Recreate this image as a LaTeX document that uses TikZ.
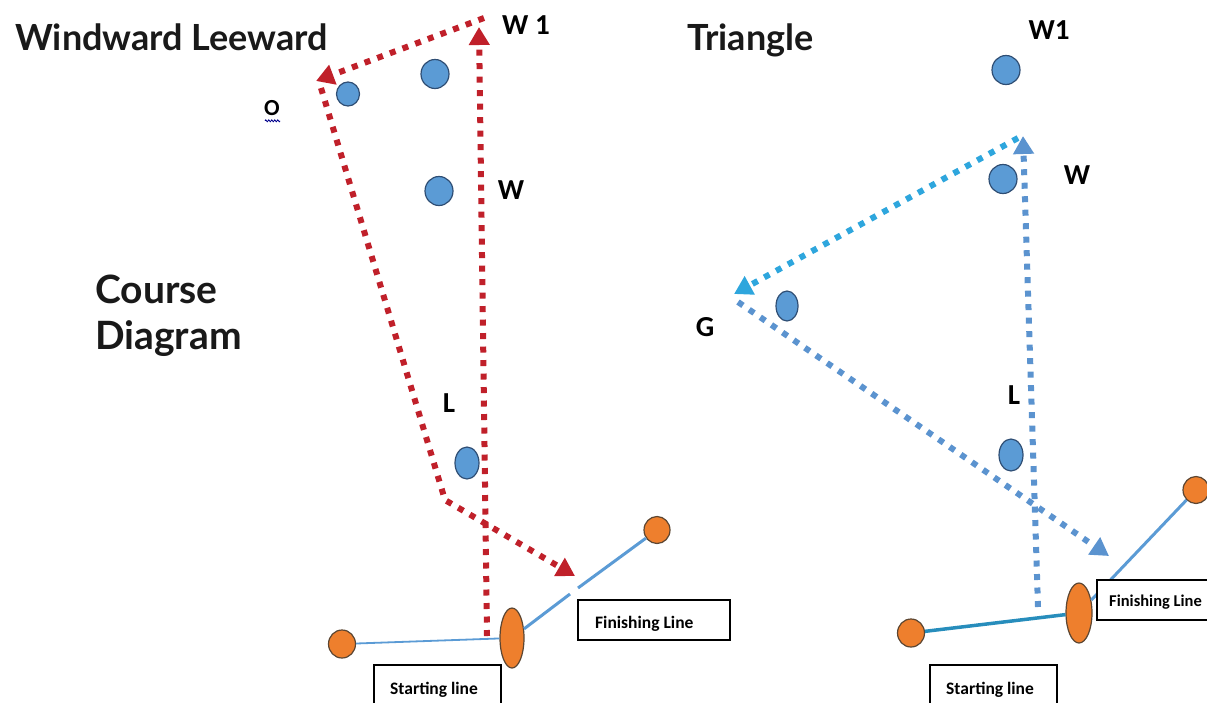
\documentclass[tikz,border=0pt]{standalone}
\usepackage{fontspec}
\setmainfont{Carlito}
\newfontfamily\titlefont{Lato}
\usetikzlibrary{arrows.meta,shapes.geometric,decorations.pathmorphing}
\definecolor{rdot}{HTML}{C0202A}
\definecolor{bdot}{HTML}{5B93CF}
\definecolor{cdot}{HTML}{2EA6DD}
\definecolor{bfill}{HTML}{5B9BD5}
\definecolor{bline}{HTML}{2F4E74}
\definecolor{ofill}{HTML}{EE7F2D}
\definecolor{oline}{HTML}{5C4632}
\definecolor{sline}{HTML}{5B9BD5}
\tikzset{
  bmark/.style={ellipse,draw=bline,line width=1.2pt,fill=bfill,inner sep=0pt},
  omark/.style={ellipse,draw=oline,line width=1.2pt,fill=ofill,inner sep=0pt},
  reddots/.style={draw=rdot,line width=6pt,dash pattern=on 6pt off 7.5pt},
  bluedots/.style={draw=bdot,line width=6pt,dash pattern=on 6pt off 7.5pt},
  cyandots/.style={draw=cdot,line width=6pt,dash pattern=on 6pt off 7.5pt},
  rtip/.style={-{Triangle[length=18pt,width=20pt]}},
  title/.style={font=\titlefont\bfseries\fontsize{36}{40}\selectfont,text=black!90,inner sep=0pt},
  lbl/.style={font=\bfseries\fontsize{29}{32}\selectfont,inner sep=0pt},
  boxlbl/.style={draw=black,line width=1.3pt,fill=white,inner sep=0pt},
  boxtxt/.style={font=\bfseries\fontsize{17.5}{19}\selectfont,inner sep=0pt,anchor=base west},
  sline/.style={draw=sline,line width=2.2pt},
  tline/.style={draw=sline,line width=3.5pt}
}
\begin{document}
\begin{tikzpicture}[x=1pt,y=-1pt]
\useasboundingbox (0,0) rectangle (1207,702);
% ===== titles =====
\node[title,anchor=base west] (t1) at (15,50) {Windward Leeward};
\node[title,anchor=base west] (t2) at (687,50) {Triangle};
\node[title,anchor=base west,font=\titlefont\bfseries\fontsize{39}{44}\selectfont] (t3a) at (95,303) {Course};
\node[title,anchor=base west,font=\titlefont\bfseries\fontsize{39}{44}\selectfont] (t3b) at (95,349) {Diagram};

% ===== left diagram =====
\node[bmark,minimum width=23pt,minimum height=24pt] (lo) at (348,94) {};
\node[bmark,minimum width=28pt,minimum height=29pt] (lw1) at (435,74) {};
\node[bmark,minimum width=28pt,minimum height=29pt] (lw) at (439,191) {};
\node[bmark,minimum width=24pt,minimum height=32pt] (ll) at (467,463) {};

\node[lbl] (lw1t) at (526,25) {W 1};
\node[lbl] (lwt) at (511,190) {W};
\node[lbl] (llt) at (449,403) {L};
\node[lbl,font=\bfseries\fontsize{23}{26}\selectfont] (lot) at (272,108) {O};
\draw[draw=blue!55!black,line width=0.8pt,decorate,decoration={zigzag,amplitude=1pt,segment length=3pt}] (lot.south west) ++(1,5) -- ++(15,0);

\coordinate (rs) at (487,636);
\coordinate (rt) at (479,27);
\coordinate (rw) at (484,18);
\coordinate (ro) at (316,81);
\coordinate (ro2) at (321,88);
\coordinate (rb) at (445,500);
\coordinate (rf) at (575,576);
\draw[reddots,rtip] (rs) -- (rt);
\draw[reddots,rtip] (rw) -- (ro);
\draw[reddots,rtip] (ro2) -- (rb) -- (rf);

\node[boxlbl,minimum width=152pt,minimum height=40pt] (lfin) at (654,620) {};
\node[boxtxt] (lfint) at (595,628) {Finishing Line};
\path[boxlbl] (374,665) rectangle (501,705);
\node[boxtxt] (lstat) at (390,694) {Starting line};

\node[omark,minimum width=27pt,minimum height=28pt] (ls1) at (342,644) {};
\node[omark,minimum width=24pt,minimum height=60pt] (lse) at (512,638) {};
\node[omark,minimum width=26pt,minimum height=27pt] (lf1) at (657,530) {};
\draw[sline,line width=1.8pt] (ls1) -- (lse);
\coordinate (lgap1) at (570,594);
\coordinate (lgap2) at (578,588);
\draw[sline,line width=3pt] (lse) -- (lgap1);
\draw[sline,line width=3pt] (lgap2) -- (lf1);

% ===== right diagram =====
\node[bmark,minimum width=28pt,minimum height=29pt] (rw1c) at (1006,70) {};
\node[bmark,minimum width=28pt,minimum height=29pt] (rwc) at (1003,179) {};
\node[bmark,minimum width=22pt,minimum height=30pt] (rgc) at (787,306) {};
\node[bmark,minimum width=24pt,minimum height=32pt] (rlc) at (1011,455) {};

\node[lbl] (rw1t) at (1049,30) {W1};
\node[lbl] (rwt) at (1077,175) {W};
\node[lbl] (rgt) at (705,327) {G};
\node[lbl] (rlt) at (1014,395) {L};

\coordinate (bs) at (1038,607);
\coordinate (bt) at (1023,136);
\coordinate (cs) at (1018,138);
\coordinate (ct) at (734,294);
\coordinate (gs) at (738,302);
\coordinate (gt) at (1109,556);
\draw[bluedots,rtip] (bs) -- (bt);
\draw[cyandots,rtip] (cs) -- (ct);
\draw[bluedots,rtip] (gs) -- (gt);

\node[omark,minimum width=27pt,minimum height=28pt] (rs1) at (911,633) {};
\node[omark,minimum width=26pt,minimum height=60pt] (rse) at (1079,613) {};
\node[omark,minimum width=26pt,minimum height=27pt] (rf1) at (1196,490) {};
\draw[tline,draw=cdot!85!black] (rs1) -- (rse);
\draw[tline,line width=3pt] (rse) -- (rf1);

\path[boxlbl] (1097,580) rectangle (1215,620);
\node[boxtxt,font=\bfseries\fontsize{16.5}{18}\selectfont] (rfint) at (1109,606) {Finishing Line};
\path[boxlbl] (930,665) rectangle (1057,705);
\node[boxtxt] (rstat) at (946,694) {Starting line};
\end{tikzpicture}
\end{document}
